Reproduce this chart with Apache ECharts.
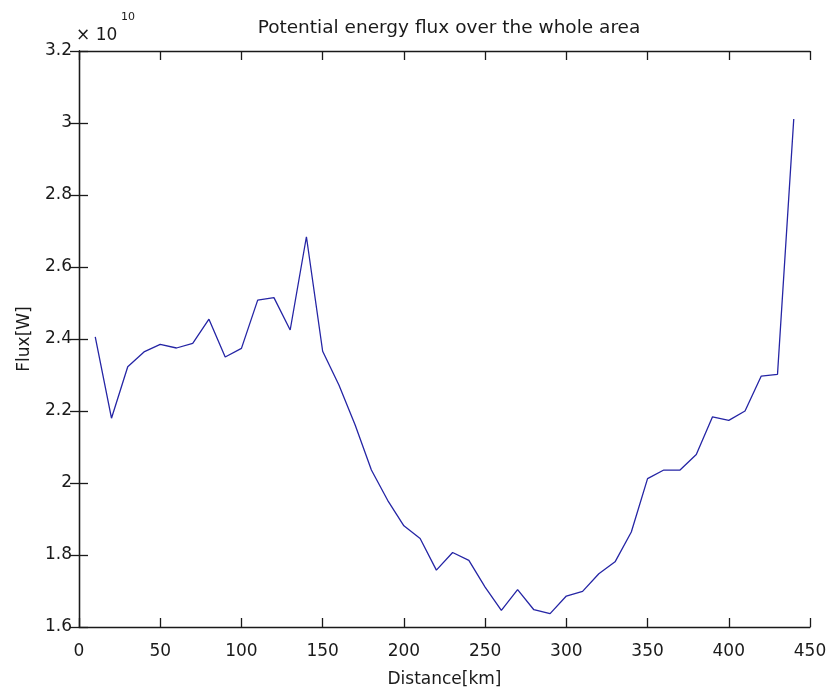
<!DOCTYPE html>
<html>
<head>
<meta charset="utf-8">
<script src="https://cdn.jsdelivr.net/npm/echarts@6/dist/echarts.min.js"></script>
<style>
  html, body { margin: 0; padding: 0; background: #fff; }
  #chart { width: 830px; height: 693px; }
</style>
</head>
<body>
<div id="chart"></div>
<script>
// Distance along the section [km]
const distanceKm = [10, 20, 30, 40, 50, 60, 70, 80, 90, 100,
  110, 120, 130, 140, 150, 160, 170, 180, 190, 200,
  210, 220, 230, 240, 250, 260, 270, 280, 290, 300,
  310, 320, 330, 340, 350, 360, 370, 380, 390, 400,
  410, 420, 430, 440];

// Potential energy flux, in units of 1e10 W
const fluxE10 = [2.406, 2.180, 2.323, 2.364, 2.385, 2.375, 2.388, 2.455, 2.350, 2.374,
  2.508, 2.515, 2.425, 2.684, 2.366, 2.272, 2.161, 2.036, 1.952, 1.881,
  1.846, 1.758, 1.807, 1.785, 1.711, 1.646, 1.704, 1.648, 1.637, 1.686,
  1.699, 1.748, 1.781, 1.864, 2.012, 2.036, 2.036, 2.079, 2.184, 2.174,
  2.200, 2.297, 2.302, 3.011];

const xTicks = [0, 50, 100, 150, 200, 250, 300, 350, 400, 450];
const yTicks = [1.6, 1.8, 2, 2.2, 2.4, 2.6, 2.8, 3, 3.2];

const FONT = '"DejaVu Sans", Verdana, sans-serif';
const INK = '#1a1a1a';
const FS = 17;

const chart = echarts.init(document.getElementById('chart'), null, { renderer: 'canvas' });

const axisLine = { show: true, lineStyle: { color: INK, width: 1.3 } };
const axisTick = { show: true, inside: true, length: 9, lineStyle: { color: INK, width: 1.3 } };

function xAxisDef(pos, labels) {
  return {
    type: 'value', position: pos, min: xTicks[0], max: xTicks[xTicks.length - 1], interval: 50,
    axisLine, axisTick, splitLine: { show: false },
    axisLabel: { show: labels, color: INK, fontFamily: FONT, fontSize: FS, margin: 16 },
    name: labels ? 'Distance[km]' : '', nameLocation: 'middle', nameGap: 44,
    nameTextStyle: { color: INK, fontFamily: FONT, fontSize: FS }
  };
}
function yAxisDef(pos, labels) {
  return {
    type: 'value', position: pos, min: yTicks[0], max: yTicks[yTicks.length - 1], interval: 0.2,
    axisLine, axisTick, splitLine: { show: false },
    axisLabel: {
      show: labels, color: INK, fontFamily: FONT, fontSize: FS, margin: 7,
      formatter: v => String(parseFloat(v.toFixed(2)))
    },
    name: labels ? 'Flux[W]' : '', nameLocation: 'middle', nameGap: 46,
    nameTextStyle: { color: INK, fontFamily: FONT, fontSize: FS }
  };
}

chart.setOption({
  backgroundColor: '#fff',
  animation: false,
  title: {
    text: 'Potential energy flux over the whole area',
    left: 444, top: 14, textAlign: 'center',
    textStyle: { color: INK, fontFamily: FONT, fontSize: 18.5, fontWeight: 'normal' }
  },
  grid: { left: 79, right: 20, top: 51, bottom: 66, containLabel: false, outerBoundsMode: 'none' },
  xAxis: [xAxisDef('bottom', true), xAxisDef('top', false)],
  yAxis: [yAxisDef('left', true), yAxisDef('right', false)],
  graphic: [
    { type: 'text', left: 76, top: 27, style: { text: '\u00d7 10', fill: INK, font: FS + 'px ' + FONT } },
    { type: 'text', left: 121, top: 12, style: { text: '10', fill: INK, font: '11px ' + FONT } }
  ],
  series: [{
    type: 'line',
    data: distanceKm.map((d, i) => [d, fluxE10[i]]),
    showSymbol: false,
    lineStyle: { color: '#2525a5', width: 1.3 },
    xAxisIndex: 0, yAxisIndex: 0
  }]
});
</script>
</body>
</html>
